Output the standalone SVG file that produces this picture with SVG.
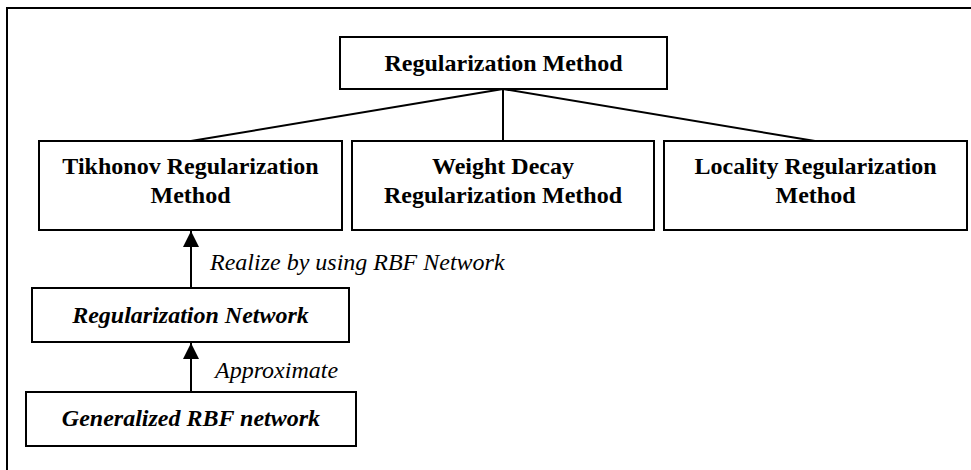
<svg xmlns="http://www.w3.org/2000/svg" width="971" height="470" viewBox="0 0 971 470">
  <defs>
    <marker id="arrowhead" viewBox="0 0 16 16" refX="16" refY="8" markerWidth="16" markerHeight="16" markerUnits="userSpaceOnUse" orient="auto">
      <path d="M0,0 L16,8 L0,16 Z" fill="#000"/>
    </marker>
    <style>
      .box { fill: #fff; stroke: #000; stroke-width: 2; }
      .link { fill: none; stroke: #000; stroke-width: 2; }
      .title { font-family: "Liberation Serif", "Times New Roman", serif; font-size: 24px; font-weight: bold; fill: #000; text-anchor: middle; }
      .title-it { font-family: "Liberation Serif", "Times New Roman", serif; font-size: 24px; font-weight: bold; font-style: italic; fill: #000; text-anchor: middle; }
      .note { font-family: "Liberation Serif", "Times New Roman", serif; font-size: 24px; font-style: italic; fill: #000; }
    </style>
  </defs>
  <rect width="971" height="470" fill="#fff"/>
  <!-- open frame: top and left edges -->
  <path d="M7,470 V8 H971" fill="none" stroke="#000" stroke-width="2"/>

  <g id="connectors">
    <line class="link" x1="503" y1="89" x2="191" y2="141"/>
    <line class="link" x1="503" y1="89" x2="503" y2="141"/>
    <line class="link" x1="503" y1="89" x2="815" y2="141"/>
    <line class="link" x1="191" y1="288" x2="191" y2="231" marker-end="url(#arrowhead)"/>
    <line class="link" x1="191" y1="392" x2="191" y2="343" marker-end="url(#arrowhead)"/>
    <text class="note" x="210" y="270">Realize by using RBF Network</text>
    <text class="note" x="215" y="378">Approximate</text>
  </g>

  <g id="regularization-method">
    <rect class="box" x="340" y="37" width="327" height="52"/>
    <text class="title" x="503.5" y="71">Regularization Method</text>
  </g>

  <g id="tikhonov">
    <rect class="box" x="39" y="141" width="303" height="89"/>
    <text class="title" x="190.5" y="174">Tikhonov Regularization</text>
    <text class="title" x="190.5" y="203">Method</text>
  </g>

  <g id="weight-decay">
    <rect class="box" x="352" y="141" width="302" height="89"/>
    <text class="title" x="503" y="174">Weight Decay</text>
    <text class="title" x="503" y="203">Regularization Method</text>
  </g>

  <g id="locality">
    <rect class="box" x="664" y="141" width="303" height="89"/>
    <text class="title" x="815.5" y="174">Locality Regularization</text>
    <text class="title" x="815.5" y="203">Method</text>
  </g>

  <g id="regularization-network">
    <rect class="box" x="32" y="288" width="317" height="54"/>
    <text class="title-it" x="190.5" y="323">Regularization Network</text>
  </g>

  <g id="generalized-rbf">
    <rect class="box" x="26" y="392" width="330" height="54"/>
    <text class="title-it" x="191" y="426">Generalized RBF network</text>
  </g>
</svg>
